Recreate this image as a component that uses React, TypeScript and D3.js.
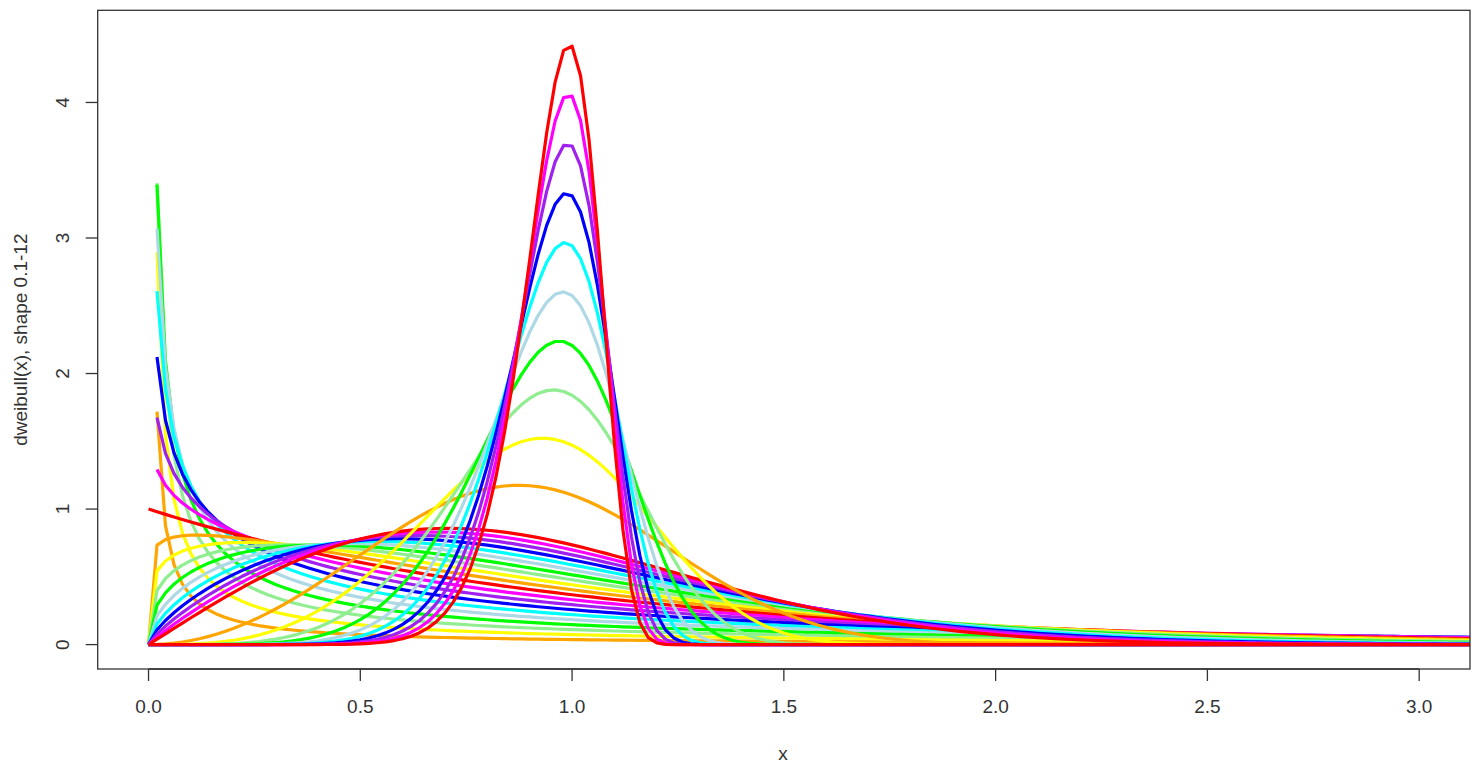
import React from "react";
import * as d3 from "d3";

// Weibull shape parameters drawn (0.1–1.0, 1.1–2.0, 3–12), in drawing order
const shapesLow = [0.1, 0.2, 0.3, 0.4, 0.5, 0.6, 0.7, 0.8, 0.9, 1.0];
const shapesMid = [1.1, 1.2, 1.3, 1.4, 1.5, 1.6, 1.7, 1.8, 1.9, 2.0];
const shapesHigh = [3, 4, 5, 6, 7, 8, 9, 10, 11, 12];
const palette = ["#FFA500", "#FFFF00", "#90EE90", "#00FF00", "#ADD8E6", "#00FFFF", "#0000FF", "#A020F0", "#FF00FF", "#FF0000"];
const xTicks = [0, 0.5, 1.0, 1.5, 2.0, 2.5, 3.0];
const yTicks = [0, 1, 2, 3, 4];
const xDomain = [-0.12, 3.12];
const yDomain = [-0.18, 4.68];
const sampleStep = 0.02;
const sampleMax = 3.2;

function dweibull(x: number, k: number): number {
  if (x < 0) return 0;
  if (x === 0) {
    if (k < 1) return Infinity;
    if (k === 1) return 1;
    return 0;
  }
  return k * Math.pow(x, k - 1) * Math.exp(-Math.pow(x, k));
}

export default function App() {
  const W = 1480, H = 774;
  const left = 97.7, right = 1470, top = 10.3, bottom = 669;
  const x = d3.scaleLinear().domain(xDomain).range([left, right]);
  const y = d3.scaleLinear().domain(yDomain).range([bottom, top]);
  const shapes = [...shapesLow, ...shapesMid, ...shapesHigh];
  const grid = d3.range(0, sampleMax + 1e-9, sampleStep);
  const line = d3
    .line<[number, number]>()
    .defined((d) => isFinite(d[1]))
    .x((d) => x(d[0]))
    .y((d) => y(d[1]));
  const font = "'Liberation Sans', Arial, sans-serif";
  const ink = "#333";
  const fs = 19;
  return (
    <svg width={W} height={H} style={{ position: "absolute", left: 0, top: 0, background: "#fff" }} fontFamily={font}>
      <defs>
        <clipPath id="plotclip">
          <rect x={left} y={top} width={right - left} height={bottom - top} />
        </clipPath>
      </defs>
      <rect x={0} y={0} width={W} height={H} fill="#fff" />
      <g clipPath="url(#plotclip)">
        {shapes.map((k, i) => (
          <path
            key={i}
            d={line(grid.map((v) => [v, dweibull(v, k)] as [number, number])) || ""}
            fill="none"
            stroke={palette[i % palette.length]}
            strokeWidth={3.2}
            strokeLinejoin="round"
          />
        ))}
      </g>
      <rect x={left} y={top} width={right - left} height={bottom - top} fill="none" stroke={ink} strokeWidth={1.3} />
      {/* x axis */}
      <line x1={x(xTicks[0])} x2={x(xTicks[xTicks.length - 1])} y1={bottom} y2={bottom} stroke={ink} strokeWidth={1.3} />
      {xTicks.map((t) => (
        <g key={t}>
          <line x1={x(t)} x2={x(t)} y1={bottom} y2={bottom + 12} stroke={ink} strokeWidth={1.3} />
          <text x={x(t)} y={713} textAnchor="middle" fontSize={fs} fill={ink}>
            {t.toFixed(1)}
          </text>
        </g>
      ))}
      {/* y axis */}
      {yTicks.map((t) => (
        <g key={t}>
          <line x1={left - 12} x2={left} y1={y(t)} y2={y(t)} stroke={ink} strokeWidth={1.3} />
          <text
            transform={`translate(69,${y(t)}) rotate(-90)`}
            textAnchor="middle"
            fontSize={fs}
            fill={ink}
          >
            {t}
          </text>
        </g>
      ))}
      <text x={783} y={760} textAnchor="middle" fontSize={fs} fill={ink}>
        x
      </text>
      <text transform={`translate(27,${(top + bottom) / 2}) rotate(-90)`} textAnchor="middle" fontSize={fs} fill={ink}>
        dweibull(x), shape 0.1-12
      </text>
    </svg>
  );
}
